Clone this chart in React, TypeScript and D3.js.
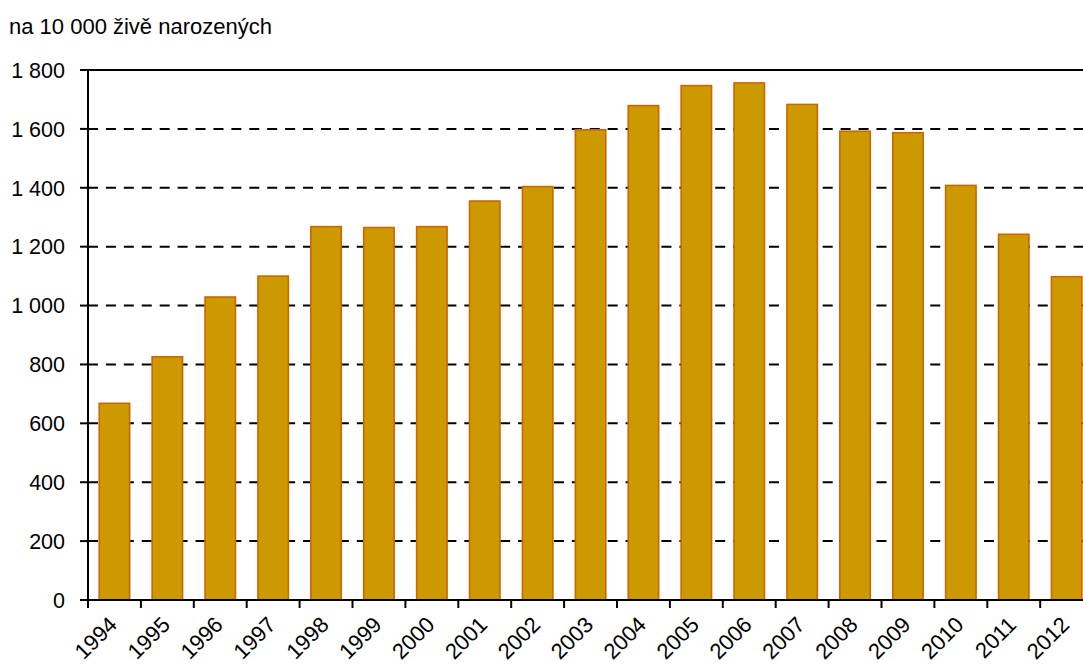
import React from "react";
import * as d3 from "d3";

// Years shown on the category axis
const years: string[] = [
  "1994", "1995", "1996", "1997", "1998", "1999", "2000", "2001", "2002", "2003",
  "2004", "2005", "2006", "2007", "2008", "2009", "2010", "2011", "2012",
];

// Rate per 10 000 live births
const rates: number[] = [
  668, 826, 1029, 1100, 1268, 1265, 1268, 1355, 1404, 1597,
  1679, 1747, 1756, 1683, 1592, 1587, 1408, 1242, 1098,
];

const yTicks: number[] = [0, 200, 400, 600, 800, 1000, 1200, 1400, 1600, 1800];

const unitLabel = "na 10 000 živě narozených";

const W = 1083;
const H = 665;
const left = 88;
const top = 70;
const bottom = 600;
const step = 52.9;
const right = left + step * years.length;

const FONT = "'Liberation Sans', Arial, sans-serif";
const BAR_FILL = "#CC9900";
const BAR_STROKE = "#CC6600";

export default function App() {
  const x = d3.scaleBand<string>().domain(years).range([left, right]).padding(0);
  const y = d3.scaleLinear().domain([0, 1800]).range([bottom, top]);
  const fmt = (v: number) => d3.format(",")(v).replace(/,/g, " ");
  const barW = x.bandwidth() * 0.575;
  const barOff = (x.bandwidth() - barW) / 2;

  return (
    <div style={{ position: "fixed", left: 0, top: 0 }}>
      <svg width={W} height={H} style={{ display: "block", background: "#fff" }} fontFamily={FONT}>
        <text x={9} y={34} fontSize={22} fill="#000">{unitLabel}</text>

        {/* horizontal gridlines */}
        {yTicks.filter((t) => t > 0 && t < 1800).map((t) => (
          <line key={"g" + t} x1={left} x2={W} y1={y(t)} y2={y(t)}
            stroke="#000" strokeWidth={2} strokeDasharray="10,7.92" />
        ))}
        {/* top border */}
        <line x1={left - 8} x2={W} y1={y(1800)} y2={y(1800)} stroke="#000" strokeWidth={2} />

        {/* bars */}
        {years.map((yr, i) => (
          <rect key={yr}
            x={(x(yr) as number) + barOff}
            y={y(rates[i])}
            width={barW}
            height={y(0) - y(rates[i])}
            fill={BAR_FILL} stroke={BAR_STROKE} strokeWidth={1.6} />
        ))}

        {/* y axis */}
        <line x1={left} x2={left} y1={top} y2={bottom + 8} stroke="#000" strokeWidth={2} />
        {yTicks.map((t) => (
          <g key={"y" + t}>
            <line x1={left - 8} x2={left} y1={y(t)} y2={y(t)} stroke="#000" strokeWidth={2} />
            <text x={65} y={y(t) + 7.8} textAnchor="end" fontSize={21.5} fill="#000">{fmt(t)}</text>
          </g>
        ))}

        {/* x axis */}
        <line x1={left - 8} x2={W} y1={bottom} y2={bottom} stroke="#000" strokeWidth={2} />
        {years.map((yr) => (
          <line key={"t" + yr} x1={x(yr) as number} x2={x(yr) as number} y1={bottom} y2={bottom + 8}
            stroke="#000" strokeWidth={2} />
        ))}
        {years.map((yr) => {
          const cx = (x(yr) as number) + x.bandwidth() / 2 + 4;
          const cy = bottom + 26;
          return (
            <text key={"l" + yr} x={cx} y={cy} textAnchor="end" fontSize={22} fill="#000"
              transform={`rotate(-45 ${cx} ${cy})`}>{yr}</text>
          );
        })}
      </svg>
    </div>
  );
}
